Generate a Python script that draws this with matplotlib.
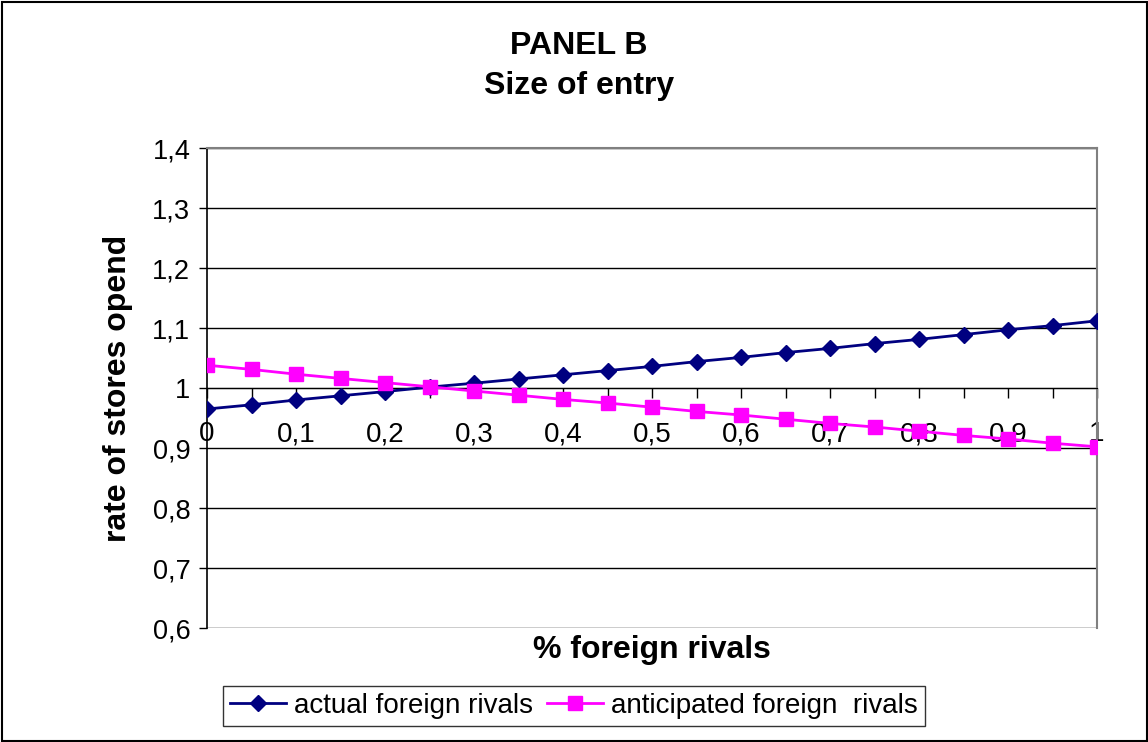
import matplotlib.pyplot as plt
from matplotlib.patches import Rectangle
import numpy as np

plt.rcParams['font.family'] = ['Liberation Sans', 'DejaVu Sans']

# share of foreign rivals (category axis, step 0.05)
share = [0.0, 0.05, 0.1, 0.15, 0.2, 0.25, 0.3, 0.35, 0.4, 0.45, 0.5,
         0.55, 0.6, 0.65, 0.7, 0.75, 0.8, 0.85, 0.9, 0.95, 1.0]

actual = [0.965, 0.972, 0.980, 0.987, 0.994, 1.0015, 1.008, 1.015, 1.022,
          1.029, 1.036, 1.044, 1.051, 1.059, 1.066, 1.074, 1.081, 1.089,
          1.097, 1.104, 1.112]
anticipated = [1.038, 1.031, 1.023, 1.016, 1.009, 1.002, 0.995, 0.988,
               0.981, 0.975, 0.968, 0.961, 0.955, 0.948, 0.941, 0.935,
               0.928, 0.921, 0.915, 0.908, 0.902]

yticks = [0.6, 0.7, 0.8, 0.9, 1.0, 1.1, 1.2, 1.3, 1.4]
ylabels = ['0,6', '0,7', '0,8', '0,9', '1', '1,1', '1,2', '1,3', '1,4']
xlabels = ['0', '', '0,1', '', '0,2', '', '0,3', '', '0,4', '', '0,5',
           '', '0,6', '', '0,7', '', '0,8', '', '0,9', '', '1']

W, H = 1148, 742
fig = plt.figure(figsize=(W / 100, H / 100), dpi=100)
ax = fig.add_axes([207 / W, 1 - 628 / H, 890 / W, 480 / H])

# category axis crosses the value axis at 1 (set first: it resets the ticks)
ax.spines['bottom'].set_position(('data', 1.0))

ax.plot(share, actual, color='#000080', lw=2, marker='D', ms=8.5,
        label='actual foreign rivals', zorder=3)
ax.plot(share, anticipated, color='#FF00FF', lw=2, marker='s', ms=9.5,
        label='anticipated foreign  rivals', zorder=3)

ax.set_xlim(0, 1)
ax.set_ylim(0.6, 1.4)
ax.set_yticks(yticks)
ax.set_yticklabels(ylabels, fontsize=19.5)
ax.set_xticks(share)
ax.set_xticklabels(xlabels, fontsize=20)
ax.tick_params(axis='y', direction='out', length=6, width=1, pad=6)
ax.tick_params(axis='x', direction='out', length=7, width=1, pad=17)

for y in yticks:
    ax.axhline(y, color='black', lw=1, zorder=1)

ax.spines['bottom'].set_color('black')
ax.spines['left'].set_color('black')
ax.spines['left'].set_linewidth(1.2)
ax.spines['top'].set_color('#808080')
ax.spines['right'].set_color('#808080')
ax.spines['top'].set_linewidth(1.5)
ax.spines['right'].set_linewidth(1.5)

fig.text(579 / W, 1 - 46 / H, 'PANEL B', ha='center', va='center',
         fontsize=23, fontweight='bold')
fig.text(579 / W, 1 - 86 / H, 'Size of entry', ha='center', va='center',
         fontsize=23, fontweight='bold')
fig.text(652 / W, 1 - 650 / H, '% foreign rivals', ha='center', va='center',
         fontsize=23, fontweight='bold')
fig.text(118 / W, 1 - 388 / H, 'rate of stores opend', ha='center',
         va='center', rotation=90, fontsize=23, fontweight='bold')

leg = fig.legend(loc='center', bbox_to_anchor=(574 / W, 1 - 706 / H),
                 ncol=2, fontsize=20, frameon=True, fancybox=False,
                 edgecolor='black', handlelength=2.0, handletextpad=0.3,
                 columnspacing=0.5, borderpad=0.25)
leg.get_frame().set_linewidth(1)

fig.patches.append(Rectangle((1.5 / W, 1.5 / H), 1 - 3 / W, 1 - 3 / H,
                             transform=fig.transFigure, fill=False,
                             edgecolor='black', lw=1.5))

fig.savefig('out.png', dpi=100)
